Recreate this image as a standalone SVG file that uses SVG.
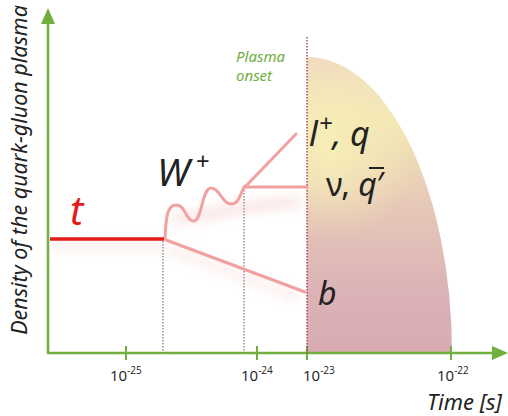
<svg xmlns="http://www.w3.org/2000/svg" width="508" height="416" viewBox="0 0 508 416">
<defs>
<linearGradient id="plasma" x1="0" y1="0" x2="0" y2="1">
<stop offset="0" stop-color="#f1dcc0"/>
<stop offset="0.22" stop-color="#f3e6b4"/>
<stop offset="0.5" stop-color="#e6c8b8"/>
<stop offset="0.8" stop-color="#dbb2b6"/>
<stop offset="1" stop-color="#d8acb2"/>
</linearGradient>
<radialGradient id="glow" cx="330" cy="150" r="90" gradientUnits="userSpaceOnUse">
<stop offset="0" stop-color="#f8f0b8" stop-opacity="0.9"/>
<stop offset="1" stop-color="#f8f0b8" stop-opacity="0"/>
</radialGradient>
<filter id="blur" x="-20%" y="-50%" width="140%" height="200%"><feGaussianBlur stdDeviation="6"/></filter>
</defs>
<style>
.axis{stroke:#6fae3f;stroke-width:2.5;fill:none}
.tick{stroke:#6fae3f;stroke-width:2}
.arrow{fill:#6fae3f}
.dot{stroke:#777;stroke-width:1.2;stroke-dasharray:1.5 1.5;fill:none}
.pink{stroke:#f2a0a0;stroke-width:3;fill:none;stroke-linecap:round}
.lbl{font-family:"Noto Sans","Open Sans",sans-serif;fill:#222}
.tl{font-family:"Open Sans","Noto Sans",sans-serif;font-size:15px;fill:#222}
.sup{font-size:10px}
.it{font-style:italic}
.green{fill:#6fae3f}
</style>
<g id="plasma-region">
<path d="M307,353 L307,57 A145,296 0 0 1 452,353 Z" fill="url(#plasma)"/>
<path d="M307,353 L307,57 A145,296 0 0 1 452,353 Z" fill="url(#glow)"/>
</g>
<g id="axes">
<line class="axis" x1="48" y1="353" x2="48" y2="20"/>
<polygon class="arrow" points="48,8 41,24 55,24"/>
<line class="axis" x1="47" y1="353" x2="496" y2="353"/>
<polygon class="arrow" points="508,353 492,346 492,360"/>
<line class="tick" x1="126" y1="346" x2="126" y2="360"/>
<line class="tick" x1="257" y1="346" x2="257" y2="360"/>
<line class="tick" x1="307" y1="346" x2="307" y2="360"/>
<line class="tick" x1="451" y1="346" x2="451" y2="360"/>
</g>
<g id="tick-labels">
<text class="tl" x="110" y="381">10<tspan class="sup" dy="-7">-25</tspan></text>
<text class="tl" x="241" y="381">10<tspan class="sup" dy="-7">-24</tspan></text>
<text class="tl" x="303" y="381">10<tspan class="sup" dy="-7">-23</tspan></text>
<text class="tl" x="437" y="381">10<tspan class="sup" dy="-7">-22</tspan></text>
</g>
<text id="x-title" class="lbl it" x="427" y="410" font-size="22">Time [s]</text>
<text id="y-title" class="lbl it" transform="translate(27,170) rotate(-90)" text-anchor="middle" font-size="21.5">Density of the quark-gluon plasma</text>
<g id="onset">
<line x1="307" y1="37" x2="307" y2="353" stroke="#a0304a" stroke-width="1.3" stroke-dasharray="1.5 1.5"/>
<text class="lbl it green" x="236" y="62" font-size="15" style="fill:#6fae3f">Plasma</text>
<text class="lbl it green" x="236" y="81" font-size="15" style="fill:#6fae3f">onset</text>
</g>
<g id="connectors">
<line class="dot" x1="163" y1="241" x2="163" y2="353"/>
<line class="dot" x1="244" y1="190" x2="244" y2="353"/>
<g filter="url(#blur)" opacity="0.3">
<line x1="52" y1="246" x2="163" y2="246" stroke="#f2a0a0" stroke-width="6"/>
<path d="M168,248 L300,298" stroke="#f2a0a0" stroke-width="6" fill="none"/>
<path d="M172,218 C190,222 230,205 300,202" stroke="#f2a0a0" stroke-width="10" fill="none"/>
</g>
<path class="pink" d="M166,240 L305,292"/>
<path class="pink" d="M165,238 C166,215 168,205 176,205 C186,205 186,222 194,221 C202,220 202,188 211,188 C220,188 222,204 231,204 C240,204 240,192 245,186"/>
<path class="pink" d="M245,187 L296,134"/>
<path class="pink" d="M245,187 L307,187"/>
<line x1="50" y1="239" x2="164" y2="239" stroke="#e31b1b" stroke-width="3.5"/>
</g>
<g id="labels">
<text class="lbl it" x="70" y="225" font-size="40" style="fill:#e31b1b">t</text>
<text class="lbl it" x="157" y="186" font-size="38">W<tspan font-size="24" dy="-16" dx="6">+</tspan></text>
<text class="lbl it" x="309" y="146" font-size="34">l<tspan font-size="24" dy="-14" dx="1">+</tspan><tspan dy="14">, q</tspan></text>
<text class="lbl" x="326" y="196" font-size="32">ν, <tspan class="it">q</tspan>′</text>
<line x1="369" y1="168" x2="384" y2="168" stroke="#222" stroke-width="2"/>
<text class="lbl it" x="318" y="305" font-size="32">b</text>
</g>
</svg>
